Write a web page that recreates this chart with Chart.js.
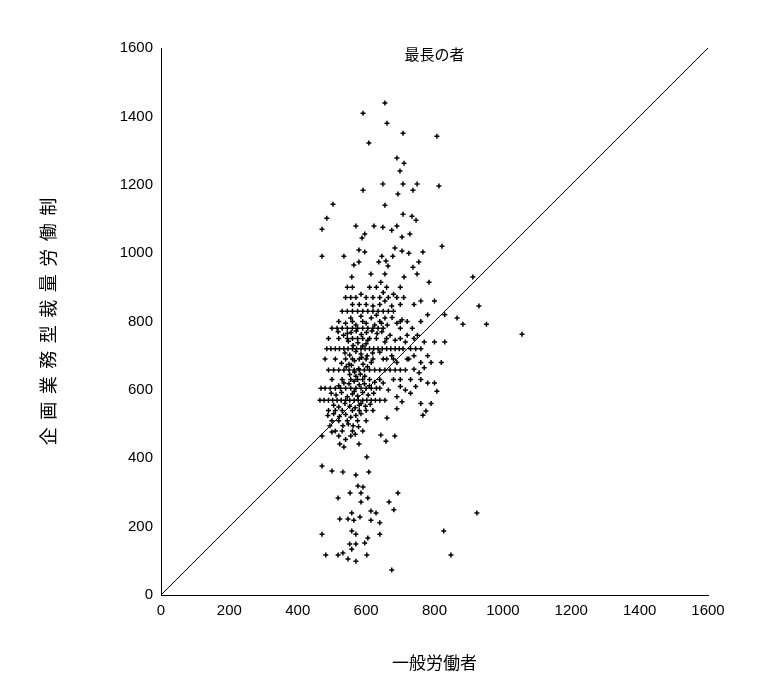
<!DOCTYPE html>
<html><head><meta charset="utf-8">
<script src="https://cdn.jsdelivr.net/npm/chart.js@4"></script>
<style>html,body{margin:0;padding:0;background:#fff}#c{display:block}</style>
</head><body>
<div style="width:772px;height:687px"><canvas id="c"></canvas></div>
<script>
const chartTitle = "最長の者";
const xAxisTitle = "一般労働者";
const yAxisTitle = "企画業務型裁量労働制";
const tickValues = [0,200,400,600,800,1000,1200,1400,1600];
const referenceLine = [[0,0],[1600,1600]];
const outlierPoints = [
[655,1439],[591,1409],[661,1380],[708,1351],[807,1342],[608,1322],[690,1278],[711,1263],[699,1240],
[591,1184],[649,1202],[708,1202],[749,1202],[737,1184],[813,1196],[693,1173],[503,1143],[485,1102],
[471,1070],[655,1140],[708,1114],[734,1108],[746,1096],[570,1079],[623,1079],[649,1076],[675,1067],
[690,1079],[728,1056],[705,1047],[596,1056],[588,1044],[822,1020],[471,991],[535,991],[579,1009],
[596,1003],[684,1015],[705,1006],[725,1000],[766,1003],[646,991],[658,977],[637,974],[678,991],
[579,974],[564,965],[664,962],[737,959],[754,974],[558,930],[614,939],[655,939],[711,930],[749,939],
[912,930],[784,915],[643,915],[930,845],[866,810],[883,792],[952,792],[1056,763],
[471,377],[500,363],[532,360],[570,351],[608,360],[602,404],[579,442],[523,442],[535,433],[471,465],
[500,477],[643,468],[658,450],[684,465],[661,518],[766,526],[775,538],[807,596],[576,319],[591,316],
[553,298],[585,298],[518,284],[605,284],[693,298],[667,272],[585,272],[681,249],[558,240],[614,246],
[629,240],[582,228],[523,222],[547,222],[564,219],[614,219],[640,211],[924,240],[827,187],[471,178],
[558,187],[570,178],[640,178],[605,167],[552,149],[570,149],[596,152],[558,134],[482,117],[518,117],
[532,123],[547,105],[570,99],[602,117],[848,117],[675,73]
];
const clusterPoints = [
[485,720],[497,720],[510,720],[522,720],[535,720],[547,720],[560,720],[572,720],[585,720],[597,720],[610,720],[622,720],[635,720],[647,720],[660,720],[672,720],[685,720],[697,720],[708,720],
[465,570],[477,570],[490,570],[502,570],[515,570],[527,570],[540,570],[552,570],[565,570],[577,570],[590,570],[602,570],[615,570],[627,570],[640,570],[655,570],
[468,605],[480,605],[495,605],[510,605],[525,605],[540,605],[555,605],[570,605],[585,605],[600,605],[615,605],[630,605],[640,605],
[490,658],[505,658],[520,658],[535,658],[550,658],[565,658],[580,658],[595,658],[610,658],[625,658],[640,658],[655,658],[670,658],[685,658],[700,658],[715,658],
[500,780],[515,780],[530,780],[545,780],[560,780],[575,780],[590,780],[605,780],[620,780],[635,780],[650,780],
[530,830],[545,830],[560,830],[575,830],[590,830],[605,830],[620,830],[635,830],[650,830],[665,830],[680,830],
[540,870],[555,870],[570,870],[600,870],[620,870],[640,870],[665,870],[690,870],
[545,900],[560,900],[610,900],[630,900],[660,900],[700,900],
[480,690],[510,690],[540,690],[560,690],[580,690],[600,690],[620,690],[650,690],[680,690],[720,690],
[490,750],[520,750],[545,750],[560,750],[575,750],[590,750],[610,750],[630,750],[660,750],[700,750],[740,750],
[500,630],[530,630],[555,630],[575,630],[590,630],[610,630],[640,630],[700,630],[730,630],[760,630],
[490,540],[510,540],[530,540],[560,540],[580,540],[600,540],[620,540],
[500,510],[520,510],[545,510],[575,510],[600,510],
[510,480],[530,480],[560,480],[590,480],
[520,800],[560,800],[590,800],[640,800],[700,800],[760,800],
[560,850],[600,850],[640,850],[700,850],[740,850],
[760,680],[790,680],[820,680],[770,740],[800,740],[830,740],[740,700],[780,700],
[780,620],[800,620],[760,560],[790,560],[760,860],[800,860],[780,820],[830,820],[720,760],[750,760],
[550,675],[570,640],[585,705],[600,735],[615,680],[565,595],[580,555],[545,765],[625,790],[655,810],
[528,678],[542,668],[557,672],[566,685],[578,662],[591,675],[604,668],[552,645],[566,652],[583,646],
[596,640],[538,708],[552,702],[570,712],[587,695],[603,700],[619,708],[562,730],[576,738],[590,728],
[605,745],[548,742],[534,760],[556,768],[571,772],[586,762],[601,768],[617,772],[632,765],[646,770],
[518,770],[540,795],[555,810],[570,790],[585,815],[600,795],[615,810],[630,818],[645,795],[662,790],
[676,812],[690,795],[705,805],[520,612],[535,620],[550,618],[565,625],[580,615],[595,618],[610,612],
[625,622],[498,590],[512,585],[528,592],[545,580],[560,588],[575,582],[590,592],[606,585],[622,590],
[505,555],[520,550],[538,560],[552,552],[568,548],[585,560],[598,552],[612,558],[488,525],[505,530],
[522,522],[540,528],[555,520],[570,525],[585,530],[532,495],[548,500],[562,495],[578,492],[494,495],
[540,455],[555,465],[568,470],[520,465],[580,850],[620,845],[655,860],[675,845],[585,880],[650,885],
[680,880],[710,870],[700,780],[720,800],[735,780],[715,740],[730,720],[745,720],[760,720],[725,690],
[740,660],[755,650],[770,665],[700,610],[715,600],[730,590],[745,610],[690,580],[705,565],[690,545],
[650,620],[665,600],[680,630],[660,690],[675,700],[690,680],[640,710],[655,740],[670,760],[685,745]
];
const toXY = a => a.map(p => ({x:p[0], y:p[1]}));

const overlay = {
  id:'overlay',
  afterDraw(chart){
    const {ctx, chartArea} = chart;
    ctx.save();
    ctx.fillStyle='#000';
    ctx.textAlign='center'; ctx.textBaseline='middle';
    ctx.font='15px "Noto Sans CJK JP"';
    ctx.fillText(chartTitle,(chartArea.left+chartArea.right)/2,54);
    ctx.font='17px "Noto Sans CJK JP"';
    ctx.fillText(xAxisTitle,(chartArea.left+chartArea.right)/2,663);
    const chars=[...yAxisTitle];
    const step=25.5, cy=(chartArea.top+chartArea.bottom)/2;
    ctx.font='18px "Noto Sans CJK JP"';
    chars.forEach((ch,i)=>{
      ctx.save();
      ctx.translate(48, cy + (i-(chars.length-1)/2)*step*-1*-1 - 0);
      ctx.restore();
    });
    ctx.translate(48,cy);
    ctx.rotate(-Math.PI/2);
    chars.forEach((ch,i)=>{
      ctx.fillText(ch,(i-(chars.length-1)/2)*step,0);
    });
    ctx.restore();
  }
};

new Chart(document.getElementById('c'),{
  type:'scatter',
  data:{datasets:[
    {data:toXY(outlierPoints.concat(clusterPoints)),pointStyle:'cross',pointRadius:2.5,borderColor:'#000',borderWidth:1.5,backgroundColor:'#000'},
    {type:'line',data:toXY(referenceLine),borderColor:'#000',borderWidth:1,pointRadius:0,fill:false}
  ]},
  options:{
    responsive:true,maintainAspectRatio:false,animation:false,
    layout:{padding:{left:60,right:64,top:48,bottom:0}},
    plugins:{legend:{display:false},tooltip:{enabled:false}},
    scales:{
      x:{type:'linear',min:0,max:1600,
        afterBuildTicks(s){s.ticks=tickValues.map(v=>({value:v}));},
        afterFit(s){s.height=92;},
        grid:{display:false,drawTicks:true,tickLength:5,color:'#000'},
        border:{color:'#000',width:1},
        ticks:{color:'#000',font:{family:'Liberation Sans',size:15},padding:2,maxRotation:0,callback:v=>String(v)}},
      y:{type:'linear',min:0,max:1600,
        afterBuildTicks(s){s.ticks=tickValues.map(v=>({value:v}));},
        afterFit(s){s.width=101;},
        grid:{display:false,drawTicks:true,tickLength:5,color:'#000'},
        border:{color:'#000',width:1},
        ticks:{color:'#000',font:{family:'Liberation Sans',size:15},padding:3,callback:v=>String(v)}}
    }
  },
  plugins:[overlay]
});
</script>
</body></html>
